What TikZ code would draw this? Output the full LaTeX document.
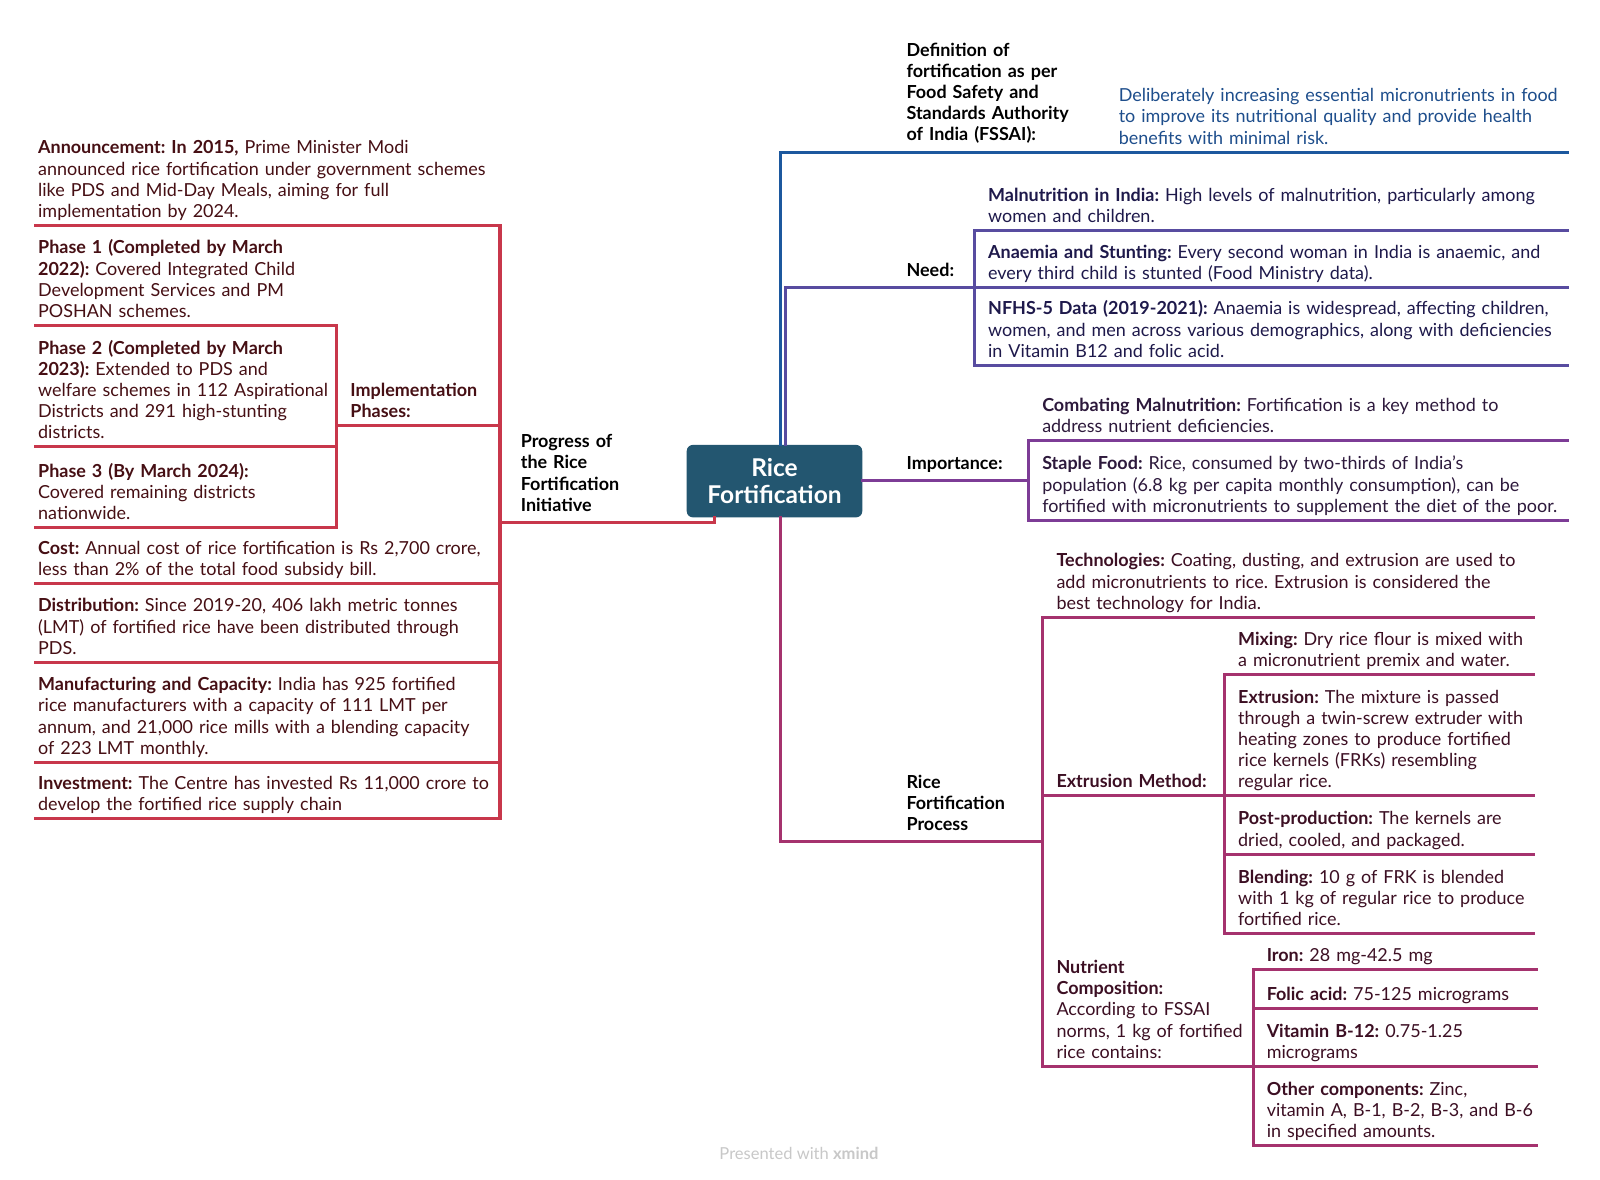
\documentclass[tikz,border=0pt]{standalone}
\usepackage{fontspec}
\setmainfont{Lato}
\usetikzlibrary{positioning}
\definecolor{ctrfill}{RGB}{35, 86, 112}
\definecolor{defblue}{RGB}{28, 88, 158}
\definecolor{deftext}{RGB}{30, 78, 140}
\definecolor{needline}{RGB}{88, 76, 160}
\definecolor{needtext}{RGB}{30, 25, 75}
\definecolor{impline}{RGB}{125, 60, 150}
\definecolor{imptext}{RGB}{45, 25, 60}
\definecolor{procline}{RGB}{165, 50, 110}
\definecolor{proctext}{RGB}{60, 15, 35}
\definecolor{progline}{RGB}{200, 55, 75}
\definecolor{progtext}{RGB}{70, 15, 20}
\definecolor{footgrey}{RGB}{200, 200, 200}
\frenchspacing

\begin{document}
\begin{tikzpicture}[x=0.5pt, y=-0.5pt,
        ctrbox/.style={rectangle, rounded corners=3pt, fill=ctrfill, text=white, minimum width=86pt, minimum height=35.5pt, align=center, font=\fontsize{12}{13}\selectfont\bfseries},
        rtopic/.style={anchor=south west, inner xsep=6.5pt, inner ysep=0.6pt, text width=300pt, align=left, font=\fontsize{8.8}{10.4}\selectfont, execute at end node=\strut},
        ltopic/.style={rtopic, inner xsep=1pt},
        headtxt/.style={rtopic, inner xsep=0pt, inner ysep=2.1pt, text=black, font=\fontsize{8.8}{10.4}\selectfont\bfseries},
        conn/.style={line width=1.5pt, line cap=rect}
    ]
        \fill[white] (0,0) rectangle (1568,1156);
        \useasboundingbox (0,0) rectangle (1568,1156);
        \coordinate (spL) at (490,0);
        \coordinate (rEndA) at (1536,0);
        \coordinate (rEndB) at (1503,0);

        \node[ctrbox] (ctr) at (759,471.5) {Rice\\Fortification};

        \node[headtxt] (defl) at (888,149) {Definition of\\fortification as per\\Food Safety and\\Standards Authority\\of India (FSSAI):};
        \node[rtopic, text=deftext] (defd) at (1083,149) {Deliberately increasing essential micronutrients in food\\to improve its nutritional quality and provide health\\benefits with minimal risk.};
        \draw[conn, defblue] ([xshift=3pt]ctr.north) |- (rEndA |- defd.south);

        \begin{scope}[nodes={text=needtext}]
        \node[headtxt] (need) at (888,282) {Need:};
        \node[rtopic] (mal) at (955,226) {\textbf{Malnutrition in India:} High levels of malnutrition, particularly among\\women and children.};
        \node[rtopic] (ana) at (955,282) {\textbf{Anaemia and Stunting:} Every second woman in India is anaemic, and\\every third child is stunted (Food Ministry data).};
        \node[rtopic] (nfhs) at (955,358) {\textbf{NFHS-5 Data (2019-2021):} Anaemia is widespread, affecting children,\\women, and men across various demographics, along with deficiencies\\in Vitamin B12 and folic acid.};
        \end{scope}
        \draw[conn, needline] ([xshift=5.25pt]ctr.north) |- (ana.south west);
        \draw[conn, needline] (mal.south west) -- (nfhs.south west);
        \draw[conn, needline] (mal.south west) -- (rEndA |- mal.south);
        \draw[conn, needline] (ana.south west) -- (rEndA |- ana.south);
        \draw[conn, needline] (nfhs.south west) -- (rEndA |- nfhs.south);

        \begin{scope}[nodes={text=imptext}]
        \node[headtxt] (imp) at (888,471) {Importance:};
        \node[rtopic] (comb) at (1008,432) {\textbf{Combating Malnutrition:} Fortification is a key method to\\address nutrient deficiencies.};
        \node[rtopic] (stap) at (1008,510) {\textbf{Staple Food:} Rice, consumed by two-thirds of India’s\\population (6.8 kg per capita monthly consumption), can be\\fortified with micronutrients to supplement the diet of the poor.};
        \end{scope}
        \draw[conn, impline] (ctr.east |- imp.south) -- (comb.west |- imp.south);
        \draw[conn, impline] (comb.south west) -- (stap.south west);
        \draw[conn, impline] (comb.south west) -- (rEndA |- comb.south);
        \draw[conn, impline] (stap.south west) -- (rEndA |- stap.south);

        \begin{scope}[nodes={text=proctext}]
        \node[headtxt] (proc) at (888,825) {Rice\\Fortification\\Process};
        \node[rtopic] (tech) at (1022,605) {\textbf{Technologies:} Coating, dusting, and extrusion are used to\\add micronutrients to rice. Extrusion is considered the\\best technology for India.};
        \node[rtopic] (extm) at (1022,780) {\textbf{Extrusion Method:}};
        \node[rtopic] (nutc) at (1022,1045) {\textbf{Nutrient}\\\textbf{Composition:}\\According to FSSAI\\norms, 1 kg of fortified\\rice contains:};
        \node[rtopic] (mix) at (1200,661) {\textbf{Mixing:} Dry rice flour is mixed with\\a micronutrient premix and water.};
        \node[rtopic] (extr) at (1200,780) {\textbf{Extrusion:} The mixture is passed\\through a twin-screw extruder with\\heating zones to produce fortified\\rice kernels (FRKs) resembling\\regular rice.};
        \node[rtopic] (post) at (1200,837) {\textbf{Post-production:} The kernels are\\dried, cooled, and packaged.};
        \node[rtopic] (blend) at (1200,915) {\textbf{Blending:} 10 g of FRK is blended\\with 1 kg of regular rice to produce\\fortified rice.};
        \node[rtopic] (iron) at (1228,950) {\textbf{Iron:} 28 mg-42.5 mg};
        \node[rtopic] (folic) at (1228,988) {\textbf{Folic acid:} 75-125 micrograms};
        \node[rtopic] (vitb) at (1228,1045) {\textbf{Vitamin B-12:} 0.75-1.25\\micrograms};
        \node[rtopic] (other) at (1228,1123) {\textbf{Other components:} Zinc,\\vitamin A, B-1, B-2, B-3, and B-6\\in specified amounts.};
        \end{scope}
        \draw[conn, procline] ([xshift=3pt]ctr.south) |- (tech.west |- proc.south);
        \draw[conn, procline] (tech.south west) -- (nutc.south west);
        \draw[conn, procline] (tech.south west) -- (rEndB |- tech.south);
        \draw[conn, procline] (extm.south west) -- (mix.west |- extm.south);
        \draw[conn, procline] (nutc.south west) -- (iron.west |- nutc.south);
        \draw[conn, procline] (mix.south west) -- (blend.south west);
        \draw[conn, procline] (mix.south west) -- (rEndB |- mix.south);
        \draw[conn, procline] (extr.south west) -- (rEndB |- extr.south);
        \draw[conn, procline] (post.south west) -- (rEndB |- post.south);
        \draw[conn, procline] (blend.south west) -- (rEndB |- blend.south);
        \draw[conn, procline] (iron.south west) -- (other.south west);
        \draw[conn, procline] (iron.south west) -- ([xshift=1.5pt]rEndB |- iron.south);
        \draw[conn, procline] (folic.south west) -- ([xshift=1.5pt]rEndB |- folic.south);
        \draw[conn, procline] (vitb.south west) -- ([xshift=1.5pt]rEndB |- vitb.south);
        \draw[conn, procline] (other.south west) -- ([xshift=1.5pt]rEndB |- other.south);

        \begin{scope}[nodes={text=progtext}]
        \node[headtxt] (prog) at (510,512) {Progress of\\the Rice\\Fortification\\Initiative};
        \node[ltopic] (ann) at (35,221) {\textbf{Announcement: In 2015,} Prime Minister Modi\\announced rice fortification under government schemes\\like PDS and Mid-Day Meals, aiming for full\\implementation by 2024.};
        \node[rtopic] (impl) at (330,417) {\textbf{Implementation}\\\textbf{Phases:}};
        \node[ltopic] (ph1) at (35,319) {\textbf{Phase 1 (Completed by March}\\\textbf{2022):} Covered Integrated Child\\Development Services and PM\\POSHAN schemes.};
        \node[ltopic] (ph2) at (35,438) {\textbf{Phase 2 (Completed by March}\\\textbf{2023):} Extended to PDS and\\welfare schemes in 112 Aspirational\\Districts and 291 high-stunting\\districts.};
        \node[ltopic] (ph3) at (35,517) {\textbf{Phase 3 (By March 2024):}\\Covered remaining districts\\nationwide.};
        \node[ltopic] (cost) at (35,572) {\textbf{Cost:} Annual cost of rice fortification is Rs 2,700 crore,\\less than 2\% of the total food subsidy bill.};
        \node[ltopic] (dist) at (35,649) {\textbf{Distribution:} Since 2019-20, 406 lakh metric tonnes\\(LMT) of fortified rice have been distributed through\\PDS.};
        \node[ltopic] (manu) at (35,747) {\textbf{Manufacturing and Capacity:} India has 925 fortified\\rice manufacturers with a capacity of 111 LMT per\\annum, and 21,000 rice mills with a blending capacity\\of 223 LMT monthly.};
        \node[ltopic] (inv) at (35,802) {\textbf{Investment:} The Centre has invested Rs 11,000 crore to\\develop the fortified rice supply chain};
        \end{scope}
        \draw[conn, progline] ([xshift=-29.5pt]ctr.south) |- (spL |- prog.south);
        \draw[conn, progline] (spL |- ann.south) -- (spL |- inv.south);
        \draw[conn, progline] (ann.south west) -- (spL |- ann.south);
        \draw[conn, progline] (impl.south west) -- (spL |- impl.south);
        \draw[conn, progline] (cost.south west) -- (spL |- cost.south);
        \draw[conn, progline] (dist.south west) -- (spL |- dist.south);
        \draw[conn, progline] (manu.south west) -- (spL |- manu.south);
        \draw[conn, progline] (inv.south west) -- (spL |- inv.south);
        \draw[conn, progline] (impl.west |- ph1.south) -- (impl.west |- ph3.south);
        \draw[conn, progline] (ph1.south west) -- (impl.west |- ph1.south);
        \draw[conn, progline] (ph2.south west) -- (impl.west |- ph2.south);
        \draw[conn, progline] (ph3.south west) -- (impl.west |- ph3.south);

        \node[font=\fontsize{8.1}{9}\selectfont, text=footgrey] (foot) at (783,1130) {Presented with \textbf{xmind}};
    \end{tikzpicture}
\end{document}
